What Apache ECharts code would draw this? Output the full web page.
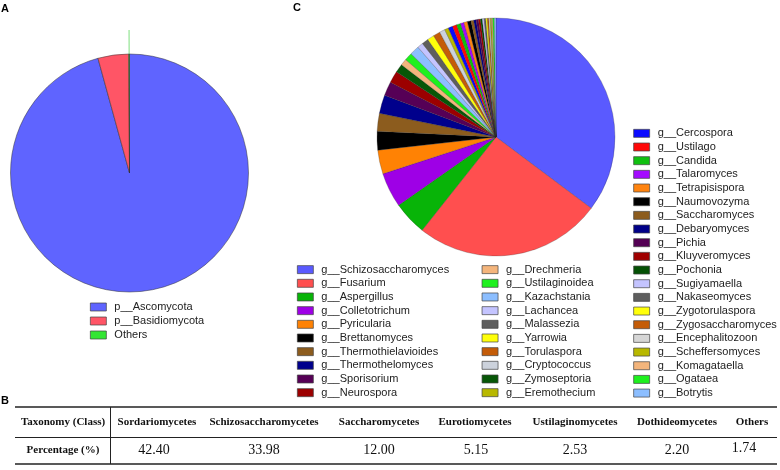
<!DOCTYPE html>
<html><head><meta charset="utf-8">
<script src="https://cdn.jsdelivr.net/npm/echarts@6/dist/echarts.min.js"></script>
<style>html,body{margin:0;padding:0;background:#fff}#c{width:780px;height:470px}</style>
</head><body><div id="c"></div>
<script>
// ---- Data ----
const phylumNames = ['p__Ascomycota', 'p__Basidiomycota', 'Others'];
const phylumValues = [95.73, 4.17, 0.10];

const genusNames = [
  'g__Schizosaccharomyces','g__Fusarium','g__Aspergillus','g__Colletotrichum','g__Pyricularia',
  'g__Brettanomyces','g__Thermothielavioides','g__Thermothelomyces','g__Sporisorium','g__Neurospora',
  'g__Zymoseptoria','g__Drechmeria','g__Ustilaginoidea','g__Kazachstania','g__Lachancea',
  'g__Malassezia','g__Yarrowia','g__Torulaspora','g__Cryptococcus','g__Eremothecium',
  'g__Cercospora','g__Ustilago','g__Candida','g__Talaromyces','g__Tetrapisispora',
  'g__Naumovozyma','g__Saccharomyces','g__Debaryomyces','g__Pichia','g__Kluyveromyces',
  'g__Pochonia','g__Sugiyamaella','g__Nakaseomyces','g__Zygotorulaspora','g__Zygosaccharomyces',
  'g__Encephalitozoon','g__Scheffersomyces','g__Komagataella','g__Ogataea','g__Botrytis'
];
const genusValues = [
  35.28, 25.47, 4.61, 4.72, 3.25,
  2.53, 2.44, 2.50, 1.92, 1.61,
  1.17, 0.89, 1.06, 1.28, 0.78,
  0.89, 0.94, 0.94, 0.75, 0.53,
  0.61, 0.58, 0.56, 0.47, 0.47,
  0.50, 0.36, 0.33, 0.31, 0.28,
  0.25, 0.25, 0.22, 0.22, 0.19,
  0.19, 0.17, 0.17, 0.22, 0.22
];
const legendCol1 = ['g__Schizosaccharomyces','g__Fusarium','g__Aspergillus','g__Colletotrichum','g__Pyricularia','g__Brettanomyces','g__Thermothielavioides','g__Thermothelomyces','g__Sporisorium','g__Neurospora'];
const legendCol2 = ['g__Drechmeria','g__Ustilaginoidea','g__Kazachstania','g__Lachancea','g__Malassezia','g__Yarrowia','g__Torulaspora','g__Cryptococcus','g__Zymoseptoria','g__Eremothecium'];
const legendCol3 = ['g__Cercospora','g__Ustilago','g__Candida','g__Talaromyces','g__Tetrapisispora','g__Naumovozyma','g__Saccharomyces','g__Debaryomyces','g__Pichia','g__Kluyveromyces','g__Pochonia','g__Sugiyamaella','g__Nakaseomyces','g__Zygotorulaspora','g__Zygosaccharomyces','g__Encephalitozoon','g__Scheffersomyces','g__Komagataella','g__Ogataea','g__Botrytis'];

const tableRowHeader = ['Taxonomy (Class)', 'Percentage (%)'];
const classNames = ['Sordariomycetes','Schizosaccharomycetes','Saccharomycetes','Eurotiomycetes','Ustilaginomycetes','Dothideomycetes','Others'];
const classPercent = ['42.40','33.98','12.00','5.15','2.53','2.20','1.74'];

// ---- Styles ----
const phylumColors = {'p__Ascomycota':'#5f64ff','p__Basidiomycota':'#ff5566','Others':'#33e633'};
const genusColors = {
  'g__Schizosaccharomyces':'#5a5aff','g__Fusarium':'#ff4f4f','g__Aspergillus':'#08b408','g__Colletotrichum':'#9e00e6','g__Pyricularia':'#ff8204',
  'g__Brettanomyces':'#000000','g__Thermothielavioides':'#8c5c1e','g__Thermothelomyces':'#00008c','g__Sporisorium':'#560056','g__Neurospora':'#9c0000',
  'g__Zymoseptoria':'#075707','g__Drechmeria':'#f4b57c','g__Ustilaginoidea':'#1ef01e','g__Kazachstania':'#8cbeff','g__Lachancea':'#c4c4ff',
  'g__Malassezia':'#5e5e5e','g__Yarrowia':'#ffff0a','g__Torulaspora':'#c45c08','g__Cryptococcus':'#ccd2dc','g__Eremothecium':'#b8b800',
  'g__Cercospora':'#0a0aff','g__Ustilago':'#ff0808','g__Candida':'#10c010','g__Talaromyces':'#a40aff','g__Tetrapisispora':'#ff8410',
  'g__Naumovozyma':'#000000','g__Saccharomyces':'#8c5c1e','g__Debaryomyces':'#000088','g__Pichia':'#540054','g__Kluyveromyces':'#a00000',
  'g__Pochonia':'#045004','g__Sugiyamaella':'#c4c4ff','g__Nakaseomyces':'#5e5e5e','g__Zygotorulaspora':'#ffff0a','g__Zygosaccharomyces':'#c45c08',
  'g__Encephalitozoon':'#d6d6d6','g__Scheffersomyces':'#b8b800','g__Komagataella':'#f4b57c','g__Ogataea':'#1ef01e','g__Botrytis':'#8cbeff'
};

const chart = echarts.init(document.getElementById('c'), null, {renderer:'canvas'});

const legendText = {fontFamily:'Liberation Sans, Arial, sans-serif', fontSize:11, color:'#222', lineHeight:13.67, padding:[0,0,0,3]};
const legendItem = {borderColor:'#444', borderWidth:0.7};
function mkLegend(data, left, top, lh) {
  return {
    data: data, orient:'vertical', left:left, top:top, padding:0,
    itemWidth:16, itemHeight:8, itemGap:0, icon:'rect', selectedMode:false,
    itemStyle: legendItem,
    textStyle: Object.assign({}, legendText, {lineHeight: lh})
  };
}

// table graphic
const colCentersHeader = [63,157,264,379,475,575,677,752];
const colCentersValue  = [63,154,264,379,476,575,677,744];
const headerY = 422.5, valueY = 450;
const graphics = [];
const lineStyle = {stroke:'#222'};
graphics.push({type:'line', shape:{x1:15,y1:407,x2:777,y2:407}, style:{stroke:'#222', lineWidth:1.5}});
graphics.push({type:'line', shape:{x1:15,y1:437.5,x2:777,y2:437.5}, style:{stroke:'#222', lineWidth:1}});
graphics.push({type:'line', shape:{x1:15,y1:464,x2:777,y2:464}, style:{stroke:'#222', lineWidth:1.5}});
graphics.push({type:'line', shape:{x1:110.5,y1:407,x2:110.5,y2:464}, style:{stroke:'#222', lineWidth:1}});
const headerRow = [tableRowHeader[0]].concat(classNames);
const valueRow = [tableRowHeader[1]].concat(classPercent);
headerRow.forEach((t,i)=>graphics.push({type:'text', x:colCentersHeader[i], y:headerY,
  style:{text:t, fill:'#111', font:'bold 11px "Liberation Serif", "Times New Roman", serif', textAlign:'center', textVerticalAlign:'middle'}}));
valueRow.forEach((t,i)=>graphics.push({type:'text', x:colCentersValue[i], y:valueY - (i===7?2:0),
  style:{text:t, fill:'#111', font:(i===0?'bold 11px':'14px')+' "Liberation Serif", "Times New Roman", serif', textAlign:'center', textVerticalAlign:'middle'}}));

const titleStyle = {fontFamily:'Liberation Sans, Arial, sans-serif', fontSize:11, fontWeight:'bold', color:'#000'};

chart.setOption({
  animation:false,
  backgroundColor:'#fff',
  title:[
    {text:'A', left:1, top:3, padding:0, textStyle:titleStyle},
    {text:'C', left:293, top:2, padding:0, textStyle:titleStyle},
    {text:'B', left:1, top:395, padding:0, textStyle:titleStyle}
  ],
  legend:[
    mkLegend(phylumNames, 90, 300, 14),
    mkLegend(legendCol1, 297, 262.8, 13.67),
    mkLegend(legendCol2, 481.7, 262.8, 13.67),
    mkLegend(legendCol3, 633.3, 126.5, 13.67)
  ],
  graphic: graphics,
  series:[
    {
      type:'pie', center:[129.5,173], radius:[0,119], startAngle:90, clockwise:true,
      avoidLabelOverlap:false, minAngle:0, silent:true,
      itemStyle:{borderColor:'#333', borderWidth:0.5},
      label:{show:false},
      labelLine:{show:false},
      data: phylumNames.map((n,i)=>({name:n, value:phylumValues[i], itemStyle:{color:phylumColors[n]},
        label: n==='Others' ? {show:true, formatter:' ', position:'outside', fontSize:1} : {show:false},
        labelLine: n==='Others' ? {show:true, length:24, length2:0, lineStyle:{color:'#7ee07e', width:1}} : {show:false}
      }))
    },
    {
      type:'pie', center:[496,137], radius:[0,119], startAngle:90, clockwise:true,
      avoidLabelOverlap:false, silent:true,
      itemStyle:{borderColor:'rgba(40,40,40,0.6)', borderWidth:0.4},
      label:{show:false}, labelLine:{show:false},
      data: genusNames.map((n,i)=>({name:n, value:genusValues[i], itemStyle:{color:genusColors[n]}}))
    }
  ]
});
</script></body></html>
